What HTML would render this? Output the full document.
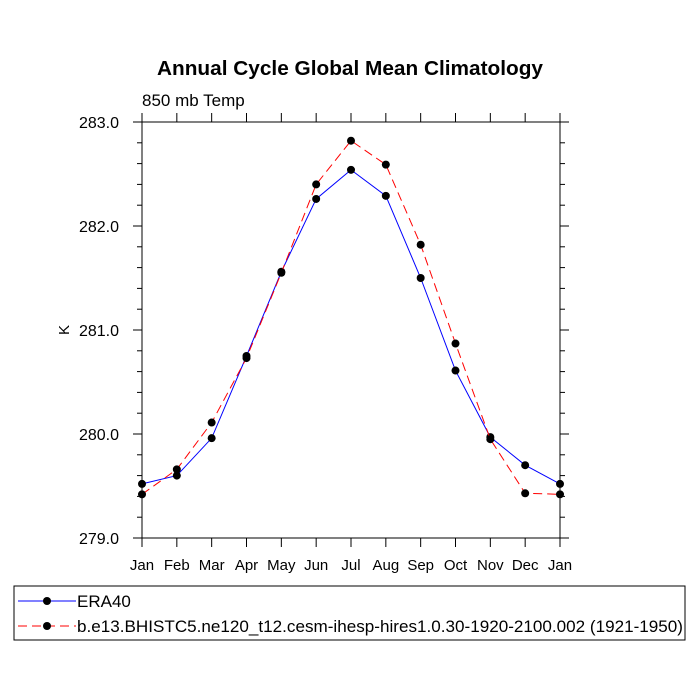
<!DOCTYPE html>
<html><head><meta charset="utf-8"><style>
body{margin:0;background:#fff}
svg{display:block;font-family:"Liberation Sans",sans-serif}
</style></head><body>
<svg id="c" width="700" height="700" viewBox="0 0 700 700">
<text x="350" y="75" text-anchor="middle" font-size="20" font-weight="bold" textLength="386" lengthAdjust="spacingAndGlyphs">Annual Cycle Global Mean Climatology</text>
<text x="142" y="106" font-size="17">850 mb Temp</text>
<text x="69" y="330" font-size="15" text-anchor="middle" transform="rotate(-90 69 330)">K</text>
<rect x="142" y="122" width="418" height="416" fill="none" stroke="#000" stroke-width="1"/>
<g id="axes"></g>
<g id="series"></g>
<g>
<rect x="14" y="586" width="671" height="54" fill="none" stroke="#000"/>
<g>
<line x1="18" y1="601" x2="76" y2="601" stroke="#00f" stroke-width="1"/>
<circle cx="47" cy="601" r="4" fill="#000"/>
<text x="77" y="607" font-size="17">ERA40</text></g>
<g>
<line x1="18" y1="626" x2="76" y2="626" stroke="#f00" stroke-width="1" stroke-dasharray="9,5"/>
<circle cx="47" cy="626" r="4" fill="#000"/>
<text x="77" y="632" font-size="17" textLength="606" lengthAdjust="spacingAndGlyphs">b.e13.BHISTC5.ne120_t12.cesm-ihesp-hires1.0.30-1920-2100.002 (1921-1950)</text></g>
</g>
</svg>
<script>
const months=["Jan","Feb","Mar","Apr","May","Jun","Jul","Aug","Sep","Oct","Nov","Dec","Jan"];
const era40=[279.52,279.60,279.96,280.75,281.56,282.26,282.54,282.29,281.50,280.61,279.97,279.70,279.52];
const model=[279.42,279.66,280.11,280.73,281.55,282.40,282.82,282.59,281.82,280.87,279.95,279.43,279.42];
const yTicks=[279,280,281,282,283];
const yTickLabels=["279.0","280.0","281.0","282.0","283.0"];
const NS="http://www.w3.org/2000/svg";
const X0=142,X1=560,Y0=538,Y1=122,YMIN=279,YMAX=283;
const sx=i=>X0+(X1-X0)*i/(months.length-1);
const sy=v=>Y0-(v-YMIN)/(YMAX-YMIN)*(Y0-Y1);
function mk(t,a,p){const e=document.createElementNS(NS,t);for(const k in a)e.setAttribute(k,a[k]);p.appendChild(e);return e;}
const ax=document.getElementById('axes');
months.forEach((m,i)=>{
  const x=sx(i);
  const t=mk('line',{x1:x,y1:Y0,x2:x,y2:Y0+9,stroke:'#000'},ax);
  
  
  const t2=mk('line',{x1:x,y1:Y1,x2:x,y2:Y1-9,stroke:'#000'},ax);
  
  
  const l=mk('text',{x:x,y:Y0+32,'text-anchor':'middle','font-size':'15'},ax);
  l.textContent=m;
  
  
});
for(let v=YMIN;v<=YMAX+1e-9;v+=0.2){
  const y=sy(v);const major=Math.abs(v-Math.round(v))<1e-6;const len=major?9:5;
  const a=mk('line',{x1:X0,y1:y,x2:X0-len,y2:y,stroke:'#000'},ax);
  
  
  const b=mk('line',{x1:X1,y1:y,x2:X1+len,y2:y,stroke:'#000'},ax);
  
  
}
yTicks.forEach((v,i)=>{
  const l=mk('text',{x:X0-23,y:sy(v)+6,'text-anchor':'end','font-size':'16'},ax);
  l.textContent=yTickLabels[i];
  
  
});
const sg=document.getElementById('series');
function draw(vals,color,dash,name){
  const p=mk('polyline',{points:vals.map((v,i)=>sx(i)+','+sy(v)).join(' '),fill:'none',stroke:color,'stroke-width':1,'stroke-dasharray':dash},sg);
  
  
  vals.forEach((v,i)=>{
    const c=mk('circle',{cx:sx(i),cy:sy(v),r:4,fill:'#000'},sg);
    
    
  });
}
draw(era40,'#00f','none','era40');
draw(model,'#f00','9,5','model');
</script>
</body></html>
